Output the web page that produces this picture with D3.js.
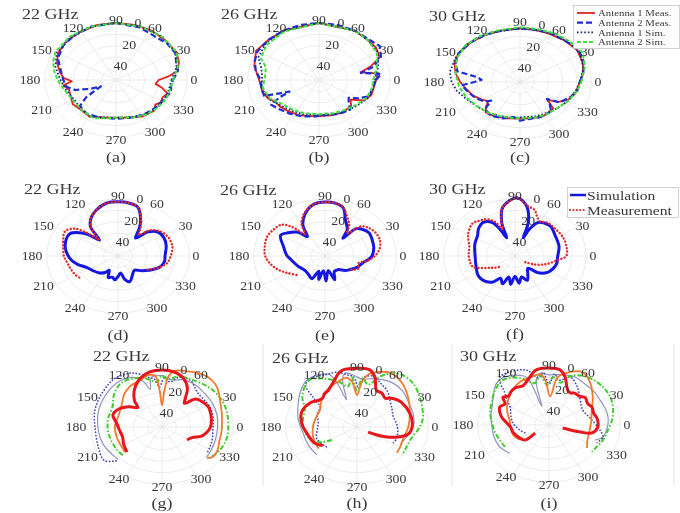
<!DOCTYPE html>
<html>
<head>
<meta charset="utf-8">
<script src="https://cdn.jsdelivr.net/npm/d3@7"></script>
<style>
  body { margin: 0; background: #fff; }
  svg { display: block; }
  text { font-family: "Liberation Serif", "Times New Roman", serif; fill: #383838; }
</style>
</head>
<body>
<svg id="fig" width="680" height="513"></svg>
<script>
// ---- axis definitions ----
const angleTicks = [0, 30, 60, 90, 120, 150, 180, 210, 240, 270, 300, 330];
const radialTicks = [0, 20, 40];
const gridLevels = [0, 10, 20, 30, 40];
const freqLabels = ["22 GHz", "26 GHz", "30 GHz"];
const captions = ["(a)", "(b)", "(c)", "(d)", "(e)", "(f)", "(g)", "(h)", "(i)"];
const legendTop = ["Antenna 1 Meas.", "Antenna 2 Meas.", "Antenna 1 Sim.", "Antenna 2 Sim."];
const legendMid = ["Simulation", "Measurement"];

// ---- patterns: [angle (deg), level below peak (dB)] ----
// row 1: two-antenna measurement vs simulation
const ant1Meas22 = [[0,20],[5,13],[10,6],[20,3],[30,1],[45,1],[60,0],[75,0],[90,0],[105,0],[120,1],[135,1],[150,3],[160,6],[170,10],[177,13],[182,19],[187,13],[195,16],[205,15],[215,13],[225,14],[240,13],[255,16],[270,17],[285,16],[300,13],[315,12],[322,15],[328,13],[335,14],[342,12],[348,17],[353,22]];
const ant2Meas22 = [[0,10],[10,6],[20,5],[30,2],[42,2],[55,3],[70,1],[90,0],[110,0],[125,1],[140,2],[155,5],[170,11],[180,13],[190,15],[197,20],[203,30],[208,38],[212,33],[216,24],[222,16],[235,14],[250,15],[270,16],[290,15],[305,14],[320,13],[335,12],[345,10],[352,11]];
const ant1Sim22 = [[0,11],[15,6],[30,2],[50,0],[70,0],[90,0],[110,0],[130,1],[150,2],[165,6],[180,11],[195,14],[210,16],[225,15],[240,13],[255,16],[270,17],[285,16],[300,14],[315,13],[330,12],[345,12]];
const ant2Sim22 = [[0,10],[15,5],[30,1],[50,0],[70,0],[90,0],[110,0],[130,0],[150,1],[160,3],[170,6],[180,9],[190,12],[200,14],[215,15],[230,14],[245,13],[260,16],[275,17],[290,15],[305,13],[320,12],[335,11],[350,11]];

const ant1Meas26 = [[0,10],[8,8],[13,20],[18,12],[25,3],[35,1],[45,1],[60,0],[90,0],[120,0],[135,0],[150,-1],[165,3],[180,8],[195,9],[205,11],[212,14],[220,14],[230,15],[245,16],[265,18],[285,18],[300,17],[315,18],[322,22],[330,14],[340,11],[350,11]];
const ant2Meas26 = [[0,10],[7,6],[12,20],[17,10],[25,2],[35,-2],[45,0],[60,0],[75,0],[90,0],[105,0],[120,0],[135,0],[150,0],[160,2],[170,5],[180,9],[190,9],[200,9],[203,20],[206,27],[209,18],[213,10],[222,12],[235,14],[250,16],[265,18],[280,19],[295,17],[310,16],[318,22],[323,24],[330,18],[338,12],[348,12],[355,11]];
const ant1Sim26 = [[0,11],[15,7],[30,2],[45,1],[60,0],[90,0],[120,0],[140,1],[155,3],[165,8],[175,10],[190,9],[205,11],[220,15],[235,17],[250,18],[270,19],[290,18],[305,17],[320,15],[335,12],[350,11]];
const ant2Sim26 = [[0,12],[15,8],[30,3],[45,1],[60,0],[90,0],[120,1],[140,2],[155,5],[163,11],[175,12],[190,10],[205,12],[220,17],[235,18],[250,19],[270,20],[290,19],[305,18],[320,16],[335,13],[350,12]];

const ant1Meas30 = [[0,8],[10,5],[20,3],[35,1],[50,2],[65,3],[80,3],[90,3],[105,3],[120,2],[135,1],[150,0],[160,1],[170,4],[180,8],[190,12],[200,15],[210,19],[217,22],[222,18],[228,14],[240,15],[255,17],[270,18],[285,17],[300,16],[315,17],[321,25],[327,18],[335,13],[345,10],[355,9]];
const ant2Meas30 = [[0,8],[10,5],[20,2],[35,0],[50,2],[65,2],[80,3],[90,3],[105,3],[120,2],[135,1],[150,0],[160,2],[168,5],[172,20],[176,23],[180,18],[184,9],[195,13],[205,16],[215,20],[219,24],[224,16],[235,14],[250,16],[262,19],[270,16],[280,17],[295,16],[310,16],[318,22],[322,26],[327,17],[340,12],[350,9]];
const ant1Sim30 = [[0,8],[15,4],[30,1],[45,1],[60,2],[75,3],[90,3],[110,3],[125,1],[140,0],[155,0],[170,0],[180,2],[190,5],[200,9],[215,13],[230,15],[245,17],[260,18],[275,19],[290,18],[305,17],[320,15],[335,12],[350,10]];
const ant2Sim30 = [[0,7],[15,3],[30,-1],[45,0],[60,1],[75,2],[90,2],[110,2],[125,1],[140,0],[155,1],[170,4],[185,7],[200,10],[215,13],[230,15],[245,17],[260,18],[275,18],[290,17],[305,16],[320,15],[335,12],[350,9]];

// row 2: simulation vs measurement
const sim22 = [[0,17],[15,15],[27,14],[37,15],[45,20],[52,30],[58,22],[63,15],[72,5],[80,3],[90,2.5],[100,3],[111,7],[120,12],[127,18],[133,31],[138,22],[143,16],[150,11],[160,11],[172,13],[186,17],[195,21],[205,26],[215,28],[227,30],[238,33],[244,36],[250,30],[258,31],[264,29],[270,32],[277,35],[283,29],[290,26],[300,30],[312,33],[322,29],[330,25],[342,19],[352,17]];
const meas22 = [[-30,26],[-20,20],[-10,15],[0,13],[12,11],[24,11],[35,13],[45,18],[52,26],[58,20],[65,12],[72,5],[80,3],[90,2.5],[100,3],[111,7],[120,12],[127,18],[133,30],[137,20],[142,11],[150,7],[160,9],[170,11],[180,12],[190,14],[200,15],[210,16],[215,17]];
const sim26 = [[0,17],[12,15],[23,14],[33,13],[42,15],[48,18],[51,30],[56,22],[66,15],[73,6],[82,3],[90,2.6],[100,4],[110,10],[120,19],[126,29],[132,22],[142,17],[150,14],[165,20],[178,23],[188,26],[205,29],[221,31],[235,30],[245,28],[252,36],[258,29],[265,37],[272,28],[280,37],[288,28],[296,35],[307,35],[318,31],[325,29],[337,25],[347,23],[355,19]];
const meas26 = [[-33,28],[-25,24],[-16,26],[-8,20],[0,15],[10,11],[20,9],[30,9],[40,11],[46,14],[52,25],[58,18],[66,12],[74,5],[82,3],[90,2.6],[100,4],[110,9],[120,17],[126,26],[132,16],[138,9],[148,7],[158,6],[170,7],[180,8],[190,11],[200,15],[210,20],[220,24]];
const sim30 = [[0,20],[15,18],[33,16.5],[45,14],[50,14],[57,15],[62,17],[67,25],[70,33],[72.5,19],[79,6],[88,-1],[101,6],[107.5,19],[110,33],[114,25],[118,17],[127,13],[137,15],[145,18],[160,20],[180,22],[200,21],[213,19],[223,19],[235,22],[243,28],[250,24],[257,31],[263,25],[270,32],[277,26],[284,31],[292,27],[300,32],[310,36],[318,28],[328,23],[338,21],[348,20]];
const meas30 = [[-37,41],[-28,34],[-18,27],[-7,20],[0,14],[12,13],[26,12.5],[40,13],[52,13],[60,15],[66,12],[71,7.5],[79,5],[88,-1],[101,6],[107,17],[110,25],[115,17],[122,12],[130,10],[136,8.7],[150,12],[166,17],[178,17.5],[190,18],[198,19],[205,25],[211,30],[217,33],[222,36]];

// row 3: five beam states per frequency
const beamRed22 = [[222,17],[210,19],[197,21],[185,20],[174,18],[163,14],[152,16],[142,21],[135,26],[130,20],[122,13],[112,6],[100,1],[90,0],[80,1],[70,5],[62,12],[57,20],[53,24],[46,16],[38,14],[28,13],[18,14],[8,15],[0,16],[-8,18],[-16,21],[-24,27],[-33,29]];
const beamOrange22 = [[220,16],[208,17],[195,17],[177,17],[164,18],[152,17],[143,15],[133,11],[123,8],[110,6],[102,3.5],[96,5],[93,18],[90,31],[87,18],[84,5],[80,0],[70,-2],[60,-4],[50,-4],[42,-2],[35,1],[27,4],[15,6.5],[8,7.5],[-5,8],[-16,8],[-28,6],[-36,5.6],[-41,8.3]];
const beamGreen22 = [[222,13],[212,12.5],[188,12],[170,11.5],[153,11],[140,6],[127,2],[115,3],[105,6],[95,10],[90,5],[85,8],[75,4],[62,3.4],[45,2],[27,2],[11,3],[-11,3.5],[-26,4.6],[-39,6.7]];
const beamBlue22 = [[223,6.6],[216,0],[201,2],[180,3],[165,1],[149,-1],[135,-3],[128,-4],[120,-3],[113,-1.5],[103,5],[97,8],[93,15],[88,7],[82,10],[75,5],[64,4.4],[57,8],[50,11],[40,12],[27.5,12],[15,13],[5,14],[-8,14],[-18,13],[-28,12],[-36,11]];
const beamGray22 = [[223,8],[200,6],[180,5],[160,3],[140,1],[125,0],[115,2],[108,8],[104,16],[100,6],[90,5],[80,8],[70,6],[60,6],[45,8],[30,9],[15,10],[0,11],[-15,11],[-30,10],[-40,9]];

const beamRed26 = [[214,21],[205,17],[192,15],[175,11],[161,9],[147,11],[140,14],[134,15],[128,13],[122,12],[114,8],[105,1],[101,-1],[89,-1.5],[80,-1],[74,4.4],[67,15],[59.5,15.5],[52,18],[47.7,15.6],[40,13],[33.7,12],[18,11],[5,11],[-5,12],[-11,14],[-17,20],[-22.6,27],[-27,35],[-30,41]];
const beamOrange26 = [[215,17],[196,18],[180,19],[165,20],[150,20],[140,17],[132,14.5],[118,10],[108,8],[100,6],[95,10],[90,22],[85,10],[80,3],[71.5,-1],[64,-3],[51,0],[35,6],[18,11],[0,14],[-19.5,16],[-30,15],[-39,14]];
const beamGreen26 = [[213,29],[208,22],[200,16],[185,13],[170,11.5],[158,10.5],[144,2.6],[129,-3],[118,2],[108,8],[100,14],[95,6],[90,18],[85,7],[78,12],[70,3],[59,-5],[44.5,-5],[30,-1],[21,1],[10,3],[0,6],[-17,11],[-28,11],[-38,10]];
const beamBlue26 = [[220,22.5],[200,20],[185,22],[172,22.5],[158,20],[146,18.7],[140,10],[134,-2],[125,-3],[116,-1],[106,0],[98,4],[93,6],[88,16],[83,6],[75,4],[67,8],[56,12],[45.6,17],[32,21],[19,23],[5,22],[-10,21],[-20,20.5],[-29,21]];
const beamGray26 = [[221,12.7],[205,12.3],[188,11.8],[170,8],[157,5],[143,0],[131,-4],[120,-3],[113,0],[110,8],[107,25],[104,8],[100,2],[92,5],[85,8],[75,6],[60,4],[45,5],[30,8],[15,9],[0,10.6],[-19,15],[-26,16]];

const beamRed30 = [[216,38],[218,28.5],[212,27],[206,26],[195,24],[184,23],[176,20],[168,16],[160,13],[155,12],[149,14],[143,9.5],[138,12],[133,10.5],[126,9.7],[118,11],[111,8],[101,1],[92,0],[81,1],[75,6.4],[67,16.6],[62,18],[57,16.6],[50,17],[43,15],[35,17],[27.6,16],[18,17],[10,15.8],[-3,15.7],[-13,19],[-15.6,27],[-15,40]];
const beamOrange30 = [[212,26],[204,24],[190,23],[171,22],[157,18],[143,14],[130,10],[118,7],[106,6],[98,5],[94,10],[88,25],[82,8],[72,1],[63,-2],[52,3],[38,11],[21,18],[8,20],[-3,21],[-15,21],[-26,20],[-37,16.6]];
const beamGreen30 = [[212,13.6],[201,13],[189,11.5],[177.5,10],[164,7],[151,4.4],[140,1],[129,-1],[120,2],[115,5],[105,12],[98,6],[92,15],[86,8],[78,12],[70,4],[57,0],[41.5,-0.5],[26.5,1],[9,4.7],[-10,9],[-20,10],[-30,11.5],[-38,11.7]];
const beamBlue30 = [[203,32],[192,29],[176,24.6],[163,22],[150,18.5],[143,13],[137.6,8],[130,-4],[120,-4],[108,-0.6],[100,8],[95,4],[90,14],[85,5],[80,10],[70.5,5.3],[59.5,11],[45,19],[29,23],[12,20.5],[-7,14],[-15.6,10.7],[-25,13]];
const beamGray30 = [[222,13],[209,10.5],[196,10],[182.5,10],[170,8.5],[158,7],[146,3],[135,-2],[125,-2],[115,2],[110,6],[107,33],[103,10],[97,4],[90,6],[80,5],[68,4],[55,6],[42,7],[31,8],[20,8],[9.6,8],[-3,9],[-15,10.7],[-22,15]];

// ---- line styles ----
const styles = {
  meas1:  { stroke: "#e22222", width: 1.8 },
  meas2:  { stroke: "#1e2ed6", width: 2.2, dash: "6,3" },
  sim1:   { stroke: "#1d2b7a", width: 1.8, dash: "1.6,2" },
  sim2:   { stroke: "#3fe03f", width: 2.0, dash: "4,2" },
  simSolid: { stroke: "#1414e2", width: 3.0, smooth: true },
  measDot:  { stroke: "#e42a2a", width: 2.4, dash: "0.1,3.3", cap: "round", smooth: true },
  red:    { stroke: "#e8141b", width: 3.0, smooth: true },
  orange: { stroke: "#f07a2e", width: 1.8, smooth: true },
  green:  { stroke: "#3fcc2a", width: 2.0, dash: "5,2,1.5,2", smooth: true },
  blue:   { stroke: "#3b3fb8", width: 1.5, dash: "1.6,1.6", smooth: true },
  gray:   { stroke: "#8f95bd", width: 1.2, smooth: true }
};

// ---- layout ----
const panels = [
  { cx: 116, cy: 80,  title: 0, tx: 22,  ty: 14,  capY: 157, series: [[ant1Meas22,"meas1",true],[ant2Meas22,"meas2",true],[ant1Sim22,"sim1",true],[ant2Sim22,"sim2",true]] },
  { cx: 319, cy: 80,  title: 1, tx: 221, ty: 14,  capY: 157, series: [[ant1Meas26,"meas1",true],[ant2Meas26,"meas2",true],[ant1Sim26,"sim1",true],[ant2Sim26,"sim2",true]] },
  { cx: 520, cy: 82,  title: 2, tx: 429, ty: 16,  capY: 157, series: [[ant1Meas30,"meas1",true],[ant2Meas30,"meas2",true],[ant1Sim30,"sim1",true],[ant2Sim30,"sim2",true]] },
  { cx: 118, cy: 256, title: 0, tx: 24,  ty: 189, capY: 335, series: [[sim22,"simSolid",true],[meas22,"measDot",false]] },
  { cx: 325, cy: 256, title: 1, tx: 220, ty: 190, capY: 335, series: [[sim26,"simSolid",true],[meas26,"measDot",false]] },
  { cx: 515, cy: 256, title: 2, tx: 429, ty: 189, capY: 334, series: [[sim30,"simSolid",true],[meas30,"measDot",false]] },
  { cx: 162, cy: 427, title: 0, tx: 93,  ty: 356, capY: 503, series: [[beamGray22,"gray",false],[beamBlue22,"blue",false],[beamGreen22,"green",false],[beamOrange22,"orange",false],[beamRed22,"red",false]] },
  { cx: 357, cy: 427, title: 1, tx: 272, ty: 358, capY: 503, series: [[beamGray26,"gray",false],[beamBlue26,"blue",false],[beamGreen26,"green",false],[beamOrange26,"orange",false],[beamRed26,"red",false]] },
  { cx: 549, cy: 425, title: 2, tx: 460, ty: 356, capY: 503, series: [[beamGray30,"gray",false],[beamBlue30,"blue",false],[beamGreen30,"green",false],[beamOrange30,"orange",false],[beamRed30,"red",false]] }
];

const R = 57;          // outer (0 dB) ring, vertical radius
const KX = 1.25;       // horizontal stretch of the printed figure
const rScale = d3.scaleLinear().domain([50, 0]).range([0, R]);
const TX = 1.2;        // horizontal text stretch

const svg = d3.select("#fig");
const defs = svg.append("defs");
defs.append("filter").attr("id", "soft").attr("x", "-5%").attr("y", "-5%").attr("width", "110%").attr("height", "110%")
  .append("feGaussianBlur").attr("stdDeviation", 0.55);
const root = svg.append("g").attr("filter", "url(#soft)");
root.append("rect").attr("width", 680).attr("height", 513).attr("fill", "#fff");

function proj(p, deg, level) {
  const a = deg * Math.PI / 180, r = rScale(level);
  return [p.cx + KX * r * Math.cos(a), p.cy - r * Math.sin(a)];
}

function label(g, x, y, str, size, anchor) {
  return g.append("text")
    .attr("transform", `translate(${x},${y}) scale(${TX},1)`)
    .attr("text-anchor", anchor || "middle")
    .attr("dy", "0.35em")
    .style("font-size", size + "px")
    .text(str);
}

// faint frames between the lower sub-figures
[263, 452, 674].forEach(x => {
  root.append("line").attr("x1", x).attr("x2", x).attr("y1", 344).attr("y2", 486)
    .attr("stroke", "#e4e4e4").attr("stroke-width", 1);
});

panels.forEach((p, i) => {
  const g = root.append("g");

  // grid rings
  gridLevels.forEach(v => {
    const pts = d3.range(0, 360, 3).map(d => proj(p, d, v));
    g.append("path").attr("d", d3.line().curve(d3.curveLinearClosed)(pts))
      .attr("fill", "none").attr("stroke", "#e6e6e6").attr("stroke-width", 0.8);
  });
  // spokes
  angleTicks.forEach(a => {
    const [x0, y0] = proj(p, a, 50), [x1, y1] = proj(p, a, 0);
    g.append("line").attr("x1", x0).attr("y1", y0).attr("x2", x1).attr("y2", y1)
      .attr("stroke", "#e6e6e6").attr("stroke-width", 0.8);
  });

  // pattern curves
  p.series.forEach(([data, key, closed]) => {
    const s = styles[key];
    const curve = closed
      ? (s.smooth ? d3.curveCatmullRomClosed : d3.curveLinearClosed)
      : (s.smooth ? d3.curveCatmullRom : d3.curveLinear);
    const line = d3.line().curve(curve)
      .x(d => proj(p, d[0], d[1])[0])
      .y(d => proj(p, d[0], d[1])[1]);
    g.append("path").attr("d", line(data))
      .attr("fill", "none").attr("stroke", s.stroke).attr("stroke-width", s.width)
      .attr("stroke-dasharray", s.dash || null)
      .attr("stroke-linecap", s.cap || "butt")
      .attr("stroke-linejoin", "round");
  });

  // angular labels
  angleTicks.forEach(a => {
    const t = a * Math.PI / 180, c = Math.cos(t);
    const x = p.cx + 82 * c - 4 * Math.abs(c);
    const y = p.cy - 60 * Math.sin(t);
    label(g, x, y, a, 11.5);
  });
  // radial labels
  radialTicks.forEach(v => {
    const [x, y] = proj(p, 72, v);
    label(g, x, y - 3, v, 11.5);
  });

  label(g, p.tx, p.ty, freqLabels[p.title], 15, "start");
  label(g, p.cx, p.capY, captions[i], 15);
});

// legend, top row
{
  const g = root.append("g");
  g.append("rect").attr("x", 573.5).attr("y", 5.5).attr("width", 106).attr("height", 43)
    .attr("fill", "#fff").attr("stroke", "#c8c8c8").attr("stroke-width", 0.8);
  const keys = ["meas1", "meas2", "sim1", "sim2"];
  legendTop.forEach((name, j) => {
    const y = 13 + j * 9.7, s = styles[keys[j]];
    g.append("line").attr("x1", 577).attr("x2", 595).attr("y1", y).attr("y2", y)
      .attr("stroke", s.stroke).attr("stroke-width", s.width).attr("stroke-dasharray", s.dash || null);
    label(g, 598, y, name, 9, "start");
  });
}
// legend, middle row
{
  const g = root.append("g");
  g.append("rect").attr("x", 567.5).attr("y", 187.5).attr("width", 111).attr("height", 30)
    .attr("fill", "#fff").attr("stroke", "#c8c8c8").attr("stroke-width", 0.8);
  const keys = ["simSolid", "measDot"];
  legendMid.forEach((name, j) => {
    const y = 195 + j * 15, s = styles[keys[j]];
    g.append("line").attr("x1", 570).attr("x2", 586).attr("y1", y).attr("y2", y)
      .attr("stroke", s.stroke).attr("stroke-width", j ? 2.2 : 2.5)
      .attr("stroke-dasharray", s.dash || null).attr("stroke-linecap", s.cap || "butt");
    label(g, 587, y, name, 13, "start");
  });
}
</script>
</body>
</html>
